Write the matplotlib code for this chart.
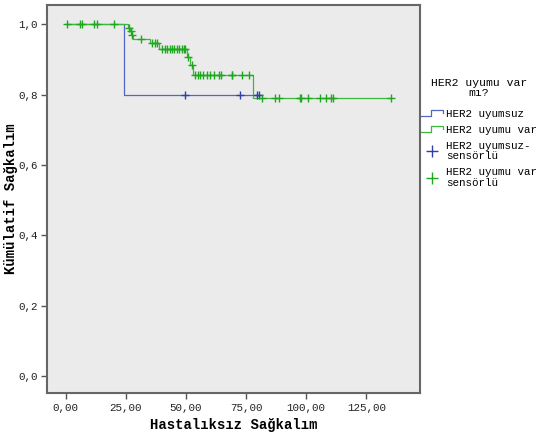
import numpy as np
import matplotlib
matplotlib.use("Agg")
from matplotlib import pyplot as plt
from matplotlib.lines import Line2D
from matplotlib.legend_handler import HandlerBase
from matplotlib.ticker import FuncFormatter

plt.rcParams['font.family'] = ['Liberation Mono', 'DejaVu Sans Mono']

# HER2 uyumsuz: olay zamanlari ve olay sonrasi sagkalim
blue_event_t = [24.2]
blue_event_s = [0.80]
blue_cens_t = [49.6, 72.5, 79.6, 80.5]

# HER2 uyumu var
green_event_t = [26.0, 26.8, 27.4, 28.0, 35.2, 38.9, 50.3, 51.5, 53.0, 77.8]
green_event_s = [0.989, 0.979, 0.968, 0.957, 0.946, 0.930, 0.905, 0.884, 0.856, 0.790]
green_cens_t = [0.7, 6.1, 6.9, 11.8, 13.0, 20.0, 26.4, 27.1, 27.6, 31.3,
                35.7, 37.1, 37.8, 39.9, 41.3, 42.1, 43.3, 44.2, 45.0, 46.3,
                47.1, 48.3, 49.1, 49.6, 50.9, 52.3, 53.8, 55.0, 55.7, 56.9,
                58.6, 59.9, 61.6, 63.9, 64.6, 69.0, 69.3, 73.2, 76.2, 81.8,
                87.1, 88.8, 97.4, 97.9, 100.9, 105.8, 108.3, 110.4, 111.0, 135.3]

blue_line = '#5266C2'
blue_mark = '#2E3FA8'
green_line = '#3DB83D'
green_mark = '#1FA81F'


def km_curve(ev_t, ev_s, cens_t):
    t_end = max(max(cens_t), max(ev_t))
    x = [0.0]
    y = [1.0]
    for t, s in zip(ev_t, ev_s):
        x += [t, t]
        y += [y[-1], s]
    x.append(t_end)
    y.append(y[-1])
    ev_t = np.array(ev_t)
    levels = np.concatenate([[1.0], ev_s])
    cy = levels[np.searchsorted(ev_t, cens_t, side='right')]
    return x, y, cy


class HandlerStep(HandlerBase):
    def create_artists(self, legend, orig, xdescent, ydescent, width, height, fontsize, trans):
        xs = np.array([0, 0.45, 0.45, 1.0, 1.0]) * width - xdescent
        ys = np.array([0.1, 0.1, 0.9, 0.9, 0.55]) * height - ydescent
        ln = Line2D(xs, ys, color=orig.get_color(), lw=orig.get_linewidth())
        ln.set_transform(trans)
        return [ln]


fig = plt.figure(figsize=(5.39, 4.41), dpi=100)
ax = fig.add_axes([0.0872, 0.1088, 0.6920, 0.8799])
ax.set_facecolor('#EBEBEB')

bx, by, bcy = km_curve(blue_event_t, blue_event_s, blue_cens_t)
gx, gy, gcy = km_curve(green_event_t, green_event_s, green_cens_t)

ax.plot(bx, by, color=blue_line, lw=0.9)
ax.plot(gx, gy, color=green_line, lw=0.9)
ax.plot(blue_cens_t, bcy, ls='none', marker='+', ms=6, mew=1.0, color=blue_mark)
ax.plot(green_cens_t, gcy, ls='none', marker='+', ms=6, mew=1.0, color=green_mark)

ax.set_xlim(-7.8, 147.3)
ax.set_ylim(-0.047, 1.054)
ax.set_xticks([0, 25, 50, 75, 100, 125])
ax.set_yticks([0.0, 0.2, 0.4, 0.6, 0.8, 1.0])
ax.xaxis.set_major_formatter(FuncFormatter(lambda v, p: f"{v:.2f}".replace('.', ',')))
ax.yaxis.set_major_formatter(FuncFormatter(lambda v, p: f"{v:.1f}".replace('.', ',')))
ax.tick_params(labelsize=7.8, length=4.5, width=1, color='#555555', labelcolor='#222222', pad=2)
ax.tick_params(axis='x', pad=3)
for sp in ax.spines.values():
    sp.set_color('#666666')
    sp.set_linewidth(1.5)

ax.set_xlabel('Hastalıksız Sağkalım', fontsize=10, fontweight='bold', labelpad=3)
ax.set_ylabel('Kümülatif Sağkalım', fontsize=10, fontweight='bold')
ax.yaxis.set_label_coords(-0.078, 0.5)

h_blue = Line2D([], [], color=blue_line, lw=0.9)
h_green = Line2D([], [], color=green_line, lw=0.9)
h_bc = Line2D([], [], ls='none', marker='+', ms=8, mew=1.0, color=blue_mark)
h_gc = Line2D([], [], ls='none', marker='+', ms=8, mew=1.0, color=green_mark)
leg = ax.legend([h_blue, h_green, h_bc, h_gc],
                ['HER2 uyumsuz', 'HER2 uyumu var', 'HER2 uyumsuz-\nsensörlü', 'HER2 uyumu var\nsensörlü'],
                handler_map={h_blue: HandlerStep(), h_green: HandlerStep()},
                title='HER2 uyumu var\nmı?', loc='upper left', bbox_to_anchor=(1.003, 0.812),
                frameon=False, fontsize=7.8, title_fontsize=8.2, handlelength=2.0,
                handletextpad=0.3, borderpad=0, borderaxespad=0, labelspacing=0.55)
for t in leg.get_texts():
    t.set_linespacing(1.05)
leg.get_title().set_linespacing(0.95)
leg.get_title().set_multialignment('center')
# daha genis baslik bosluğu
leg._legend_box.sep = 8.2

fig.savefig('out.png', dpi=100)
